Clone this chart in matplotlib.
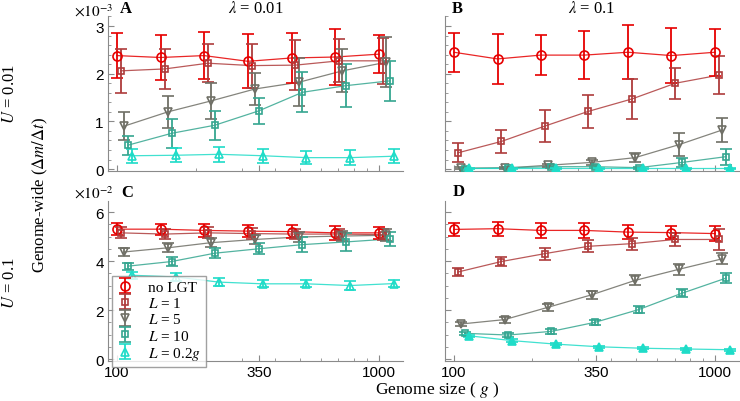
import numpy as np
import matplotlib
matplotlib.use('Agg')
import matplotlib.pyplot as plt
from matplotlib.ticker import FixedLocator, NullFormatter, MultipleLocator

plt.rcParams['mathtext.fontset'] = 'stix'
plt.rcParams['font.family'] = ['Liberation Sans', 'DejaVu Sans']

# genome sizes (g)
genome = [100, 147, 215, 316, 464, 681, 1000]

labels = ['no LGT', '$L$ = 1', '$L$ = 5', '$L$ = 10', '$L$ = 0.2$g$']

# panel A: U = 0.01, lambda = 0.01  (x 1e-3)
A_mean = [
    [2.38, 2.34, 2.38, 2.26, 2.33, 2.35, 2.41],
    [2.06, 2.10, 2.22, 2.17, 2.18, 2.27, 2.27],
    [0.90, 1.20, 1.43, 1.68, 1.82, 2.06, 2.24],
    [0.50, 0.75, 0.92, 1.22, 1.61, 1.75, 1.85],
    [0.28, 0.29, 0.31, 0.28, 0.24, 0.24, 0.27],
]
A_err = [
    [0.47, 0.47, 0.50, 0.57, 0.52, 0.58, 0.40],
    [0.46, 0.42, 0.40, 0.46, 0.52, 0.45, 0.48],
    [0.29, 0.33, 0.38, 0.33, 0.50, 0.45, 0.52],
    [0.20, 0.30, 0.30, 0.28, 0.42, 0.45, 0.42],
    [0.15, 0.15, 0.16, 0.15, 0.14, 0.15, 0.15],
]

# panel B: U = 0.01, lambda = 0.1  (x 1e-3)
B_mean = [
    [2.45, 2.31, 2.39, 2.39, 2.45, 2.38, 2.45],
    [0.34, 0.58, 0.90, 1.21, 1.47, 1.80, 1.97],
    [0.02, 0.02, 0.08, 0.14, 0.24, 0.51, 0.82],
    [0.01, 0.03, 0.05, 0.05, 0.03, 0.14, 0.26],
    [0.02, 0.02, 0.02, 0.02, 0.02, 0.02, 0.02],
]
B_err = [
    [0.41, 0.52, 0.42, 0.50, 0.57, 0.57, 0.49],
    [0.20, 0.25, 0.33, 0.35, 0.42, 0.33, 0.40],
    [0.02, 0.02, 0.03, 0.05, 0.10, 0.24, 0.25],
    [0.02, 0.02, 0.02, 0.02, 0.02, 0.10, 0.17],
    [0.01, 0.01, 0.01, 0.01, 0.01, 0.01, 0.01],
]

# panel C: U = 0.1, lambda = 0.01  (x 1e-2)
C_mean = [
    [5.30, 5.30, 5.25, 5.22, 5.20, 5.15, 5.15],
    [5.15, 5.10, 5.15, 5.12, 5.10, 5.10, 5.08],
    [4.37, 4.54, 4.75, 4.88, 4.98, 5.02, 5.05],
    [3.79, 3.98, 4.32, 4.50, 4.67, 4.78, 4.90],
    [3.42, 3.35, 3.14, 3.07, 3.07, 3.00, 3.08],
]
C_err = [
    [0.25, 0.22, 0.28, 0.25, 0.28, 0.28, 0.25],
    [0.22, 0.22, 0.22, 0.22, 0.22, 0.22, 0.22],
    [0.18, 0.18, 0.18, 0.18, 0.20, 0.22, 0.25],
    [0.15, 0.18, 0.20, 0.22, 0.30, 0.37, 0.30],
    [0.15, 0.15, 0.15, 0.15, 0.15, 0.18, 0.15],
]

# panel D: U = 0.1, lambda = 0.1  (x 1e-2)
D_mean = [
    [5.29, 5.32, 5.25, 5.25, 5.18, 5.16, 5.12],
    [3.55, 3.98, 4.30, 4.60, 4.71, 4.88, 4.88],
    [1.43, 1.61, 2.11, 2.62, 3.21, 3.66, 4.09],
    [1.05, 0.98, 1.13, 1.50, 2.02, 2.69, 3.30],
    [0.95, 0.75, 0.61, 0.50, 0.44, 0.41, 0.38],
]
D_err = [
    [0.25, 0.28, 0.30, 0.30, 0.30, 0.25, 0.30],
    [0.15, 0.20, 0.25, 0.25, 0.25, 0.25, 0.42],
    [0.10, 0.12, 0.15, 0.17, 0.20, 0.22, 0.22],
    [0.07, 0.08, 0.10, 0.10, 0.15, 0.15, 0.20],
    [0.05, 0.05, 0.05, 0.05, 0.05, 0.05, 0.05],
]

colors = ['#e60000', '#ae3c3c', '#6f6f66', '#35a690', '#1fdcc8']
markers = ['o', 's', 'v', 's', '^']
msizes = [6.5, 4, 6, 5, 6]
shift = [1.0, 1.035, 1.065, 1.10, 1.14]  # slight dodge on log axis

W, H = 740, 402
fig = plt.figure(figsize=(W / 100, H / 100), dpi=100)


def box(l, r, t, b):
    return [l / W, 1 - b / H, (r - l) / W, (b - t) / H]


axA = fig.add_axes(box(108, 403, 17, 172))
axB = fig.add_axes(box(445, 739, 17, 172))
axC = fig.add_axes(box(108, 403, 202, 362))
axD = fig.add_axes(box(445, 739, 202, 362))

panels = [(axA, A_mean, A_err, False), (axB, B_mean, B_err, True),
          (axC, C_mean, C_err, False), (axD, D_mean, D_err, True)]

gray = '#8a8a8a'
for ax, means, errs, fill_last in panels:
    for i in range(5):
        xs = np.array(genome) * shift[i]
        ax.plot(xs, means[i], '-', color=colors[i], lw=0.9, alpha=0.85, zorder=2)
        fc = colors[i] if (fill_last and i == 4) else 'none'
        ax.errorbar(xs, means[i], yerr=errs[i], fmt=markers[i], color=colors[i],
                    mfc=fc, mec=colors[i], mew=1.2, ms=msizes[i],
                    elinewidth=1.3, capsize=4.5, capthick=1.3, label=labels[i], zorder=3)
    ax.set_xscale('log')
    ax.set_xlim(92.5, 1235)
    ax.xaxis.set_major_locator(FixedLocator([100, 350, 1000]))
    ax.xaxis.set_major_formatter(matplotlib.ticker.FixedFormatter(['100', '350', '1000']))
    ax.xaxis.set_minor_locator(FixedLocator([200, 300, 400, 500, 600, 700, 800, 900]))
    ax.xaxis.set_minor_formatter(NullFormatter())
    for s in ['top', 'right']:
        ax.spines[s].set_visible(False)
    for s in ['left', 'bottom']:
        ax.spines[s].set_color(gray)
        ax.spines[s].set_linewidth(0.8)
    ax.tick_params(which='both', direction='in', color=gray, labelsize=11, pad=3)
    ax.tick_params(which='major', length=4)
    ax.tick_params(which='minor', length=2)

for ax in (axA, axB):
    ax.set_ylim(-0.04, 3.21)
    ax.yaxis.set_major_locator(FixedLocator([0, 1, 2, 3]))
    ax.yaxis.set_minor_locator(MultipleLocator(0.2))
    ax.tick_params(axis='x', labelbottom=False)
for ax in (axC, axD):
    ax.set_ylim(-0.08, 6.45)
    ax.yaxis.set_major_locator(FixedLocator([0, 2, 4, 6]))
    ax.yaxis.set_minor_locator(MultipleLocator(0.5))
for ax in (axB, axD):
    ax.tick_params(axis='y', labelleft=False)

leg = axC.legend(loc='lower left', bbox_to_anchor=(0.012, -0.035), frameon=True,
                 fancybox=False, edgecolor=gray, borderpad=0.3, labelspacing=0.15,
                 handlelength=1.2, handletextpad=0.9, borderaxespad=0,
                 prop={'family': 'Liberation Serif', 'size': 11})
leg.get_frame().set_linewidth(1.0)
leg.set_zorder(5)

serif = 'Liberation Serif'


def ftext(x, y, s, **kw):
    fig.text(x / W, 1 - y / H, s, **kw)


ftext(94, 11, r'$\times10^{-3}$', ha='center', va='center', fontsize=11, family=serif)
ftext(94, 193, r'$\times10^{-2}$', ha='center', va='center', fontsize=11, family=serif)
ftext(126, 9, 'A', ha='center', va='center', fontsize=12, weight='bold', family=serif)
ftext(457, 9, 'B', ha='center', va='center', fontsize=12, weight='bold', family=serif)
ftext(127, 193, 'C', ha='center', va='center', fontsize=12, weight='bold', family=serif)
ftext(459, 192, 'D', ha='center', va='center', fontsize=12, weight='bold', family=serif)
ftext(256, 9, r'$\lambda$ = 0.01', ha='center', va='center', fontsize=12, family=serif)
ftext(592, 9, r'$\lambda$ = 0.1', ha='center', va='center', fontsize=12, family=serif)
ftext(10, 94, r'$U$ = 0.01', ha='center', va='center', rotation=90, fontsize=12, family=serif)
ftext(10, 283, r'$U$ = 0.1', ha='center', va='center', rotation=90, fontsize=12, family=serif)
ftext(40, 195, r'Genome-wide ($\Delta m/\Delta t$)', ha='center', va='center',
      rotation=90, fontsize=12, family=serif)
ftext(437, 390, r'Genome size ( $g$ )', ha='center', va='center', fontsize=12.5, family=serif)

fig.savefig('out.png', dpi=100)
